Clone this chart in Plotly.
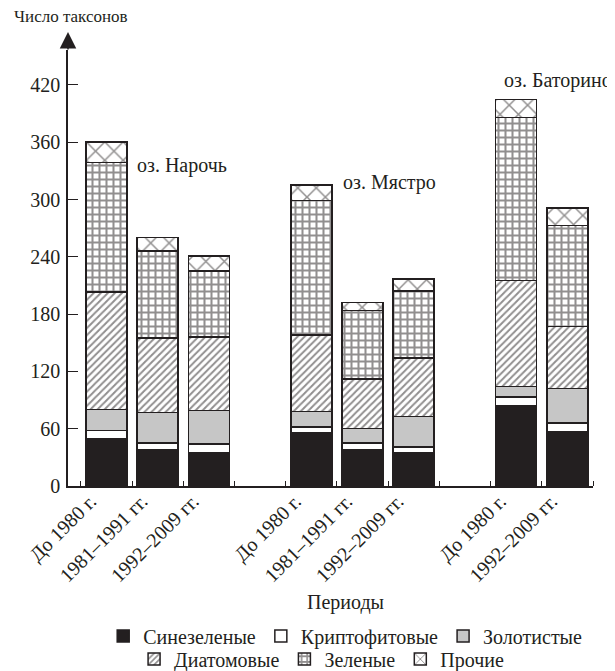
import plotly.graph_objects as go

# ---- data ----
lakes = ["оз. Нарочь", "оз. Мястро", "оз. Баторино"]
periods = [
    ["До 1980 г.", "1981–1991 гг.", "1992–2009 гг."],
    ["До 1980 г.", "1981–1991 гг.", "1992–2009 гг."],
    ["До 1980 г.", "1992–2009 гг."],
]
groups = ["Синезеленые", "Криптофитовые", "Золотистые", "Диатомовые", "Зеленые", "Прочие"]
sinezelenye = [50, 38, 35, 56, 38, 35, 84, 57]
kriptofitovye = [8, 7, 9, 6, 7, 6, 9, 9]
zolotistye = [22, 32, 35, 16, 15, 32, 11, 36]
diatomovye = [123, 78, 77, 80, 52, 61, 111, 65]
zelenye = [136, 91, 69, 141, 72, 70, 171, 106]
prochie = [21, 14, 16, 16, 8, 13, 19, 18]
y_ticks = [0, 60, 120, 180, 240, 300, 360, 420]

series = [sinezelenye, kriptofitovye, zolotistye, diatomovye, zelenye, prochie]

# category positions: consecutive periods, one empty slot between lakes
xs, labels = [], []
pos = 0
for lake_periods in periods:
    for p in lake_periods:
        xs.append(pos)
        labels.append(p)
        pos += 1
    pos += 1

INK = "#231f20"
FONT = "Liberation Serif, Times New Roman, serif"
FS = 20

styles = [
    dict(color=INK),
    dict(color="white"),
    dict(color="#c6c6c6"),
    dict(color="white", pattern=dict(shape="/", size=5, solidity=0.4, fgcolor=INK, bgcolor="white")),
    dict(color="white", pattern=dict(shape="+", size=7, solidity=0.5, fgcolor=INK, bgcolor="white")),
    dict(color="white", pattern=dict(shape="x", size=13, solidity=0.22, fgcolor=INK, bgcolor="white")),
]

fig = go.Figure()
for i, (name, vals, st) in enumerate(zip(groups, series, styles)):
    marker = dict(color=st["color"], line=dict(color=INK, width=1.5))
    if "pattern" in st:
        marker["pattern"] = st["pattern"]
    fig.add_trace(go.Bar(
        x=xs, y=vals, name=name, width=0.8, marker=marker,
        legend="legend" if i < 3 else "legend2",
    ))

lake_label_pos = [(0.56, 336), (4.58, 318), (7.72, 425)]
annotations = []
for lake, (lx, ly) in zip(lakes, lake_label_pos):
    annotations.append(dict(x=lx, y=ly, xref="x", yref="y", text=lake, showarrow=False,
                            xanchor="left", yanchor="middle", font=dict(family=FONT, size=FS, color=INK)))

# y-axis arrow
annotations.append(dict(x=0, y=1 + 18 / 436, xref="paper", yref="paper", text="", showarrow=True,
                        ax=0, ay=19, arrowhead=2, arrowsize=2.2, arrowwidth=1.5, arrowcolor=INK))
annotations.append(dict(x=-0.107, y=1.0757, xref="paper", yref="paper", text="Число таксонов",
                        showarrow=False, xanchor="left", yanchor="middle",
                        font=dict(family=FONT, size=17, color=INK)))
annotations.append(dict(x=0.528, y=-0.268, xref="paper", yref="paper", text="Периоды",
                        showarrow=False, xanchor="center", yanchor="middle",
                        font=dict(family=FONT, size=FS, color=INK)))

leg_common = dict(orientation="h", xanchor="center", yanchor="middle", bgcolor="rgba(0,0,0,0)",
                  font=dict(family=FONT, size=FS, color=INK), itemwidth=30, traceorder="normal")

# the page body adds an 8px offset, so the figure is 8px smaller than the window
fig.update_layout(
    width=607, height=663,
    margin=dict(l=60, r=22, t=42, b=185, autoexpand=False),
    barmode="stack",
    paper_bgcolor="white", plot_bgcolor="white",
    font=dict(family=FONT, size=FS, color=INK),
    annotations=annotations,
    legend=dict(x=0.528, y=-0.344, **leg_common),
    legend2=dict(x=0.483, y=-0.397, **leg_common),
    xaxis=dict(range=[-0.75, 9.5], tickmode="array", tickvals=xs, ticktext=labels, ticks="",
               tickangle=-45, showline=True, linecolor=INK, linewidth=1.5, showgrid=False,
               zeroline=False, automargin=False, ticklabelshift=-16, ticklabelstandoff=-6,
               tickfont=dict(family=FONT, size=FS, color=INK),
               minor=dict(tick0=-0.5, dtick=1, ticks="inside", ticklen=5, tickwidth=1.2,
                          tickcolor=INK, showgrid=False)),
    yaxis=dict(range=[0, 456.6], tickmode="array", tickvals=y_ticks, ticks="inside", ticklen=10,
               tickwidth=1.2, tickcolor=INK, showline=True, linecolor=INK, linewidth=1.5,
               showgrid=False, zeroline=False, ticklabelstandoff=2, automargin=False,
               tickfont=dict(family=FONT, size=FS, color=INK)),
)

fig.write_html("out.html")
